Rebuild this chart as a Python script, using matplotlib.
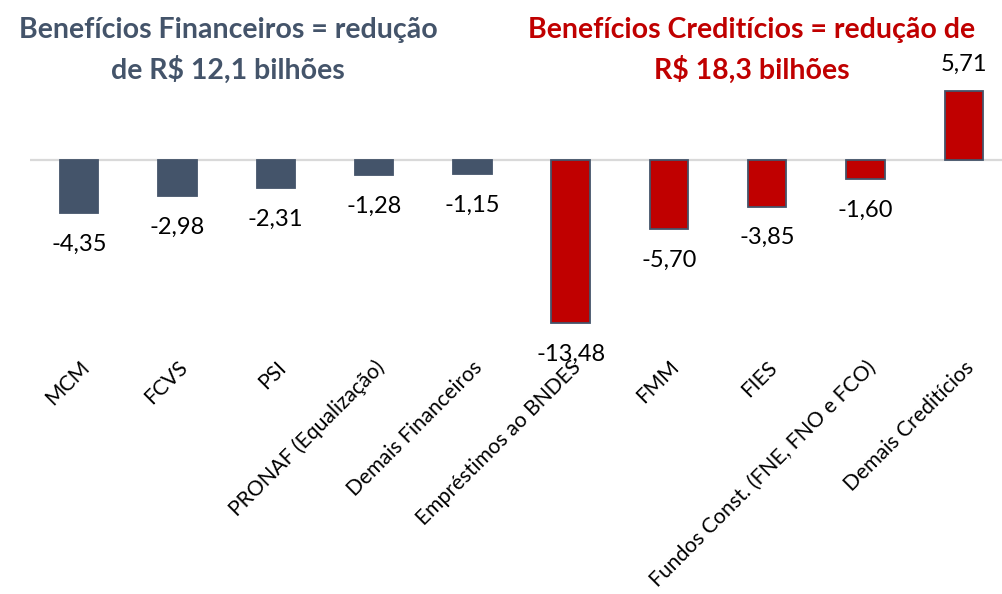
import matplotlib
matplotlib.use("Agg")
import matplotlib.pyplot as plt

# Data
categories = ["MCM", "FCVS", "PSI", "PRONAF (Equalização)", "Demais Financeiros",
              "Empréstimos ao BNDES", "FMM", "FIES", "Fundos Const. (FNE, FNO e FCO)",
              "Demais Creditícios"]
values = [-4.35, -2.98, -2.31, -1.28, -1.15, -13.48, -5.70, -3.85, -1.60, 5.71]
groups = ["fin"] * 5 + ["cred"] * 5
title_fin = ["Benefícios Financeiros = redução", "de R$ 12,1 bilhões"]
title_cred = ["Benefícios Creditícios = redução de", "R$ 18,3 bilhões"]

SLATE = "#44546A"
RED = "#C00000"

plt.rcParams["font.family"] = ["Lato", "DejaVu Sans"]

W, H = 1003, 594
fig = plt.figure(figsize=(W / 100, H / 100), dpi=100)

# axes placement in pixels: zero line at y=160 from top, ~12.1 px per unit
ymin, ymax = -14, 7
ppu = 12.1
zero_y = H - 160
ax_bottom = zero_y + ymin * ppu
ax_height = (ymax - ymin) * ppu
ax = fig.add_axes([30 / W, ax_bottom / H, 983 / W, ax_height / H])

x = list(range(len(categories)))
colors = [SLATE if g == "fin" else RED for g in groups]
ax.axhline(0, color="#D9D9D9", linewidth=1.6, zorder=1)
ax.bar(x, values, width=0.39, color=colors, edgecolor=SLATE,
       linewidth=1.3, zorder=2)

for xi, v in zip(x, values):
    label = f"{v:.2f}".replace(".", ",")
    off = 19 if v > 0 else -22.5
    ax.annotate(label, (xi, v), xytext=(0, off), textcoords="offset points",
                ha="center", va="center", fontsize=17, color="black")

ax.set_xlim(-0.5, len(categories) - 0.5)
ax.set_ylim(ymin, ymax)
ax.set_yticks([])
ax.set_xticks(x)
ax.set_xticklabels(categories, rotation=45, ha="right", rotation_mode="anchor",
                   fontsize=15.2)
ax.tick_params(axis="x", length=0, pad=20)
for s in ax.spines.values():
    s.set_visible(False)

# titles, one text per line
for lines, cx, col in [(title_fin, 228, SLATE), (title_cred, 752, RED)]:
    for i, line in enumerate(lines):
        fig.text(cx / W, 1 - (30 + 40 * i) / H, line, ha="center", va="center",
                 fontsize=20.5, fontweight="bold", color=col)

fig.savefig("out.png", dpi=100)
